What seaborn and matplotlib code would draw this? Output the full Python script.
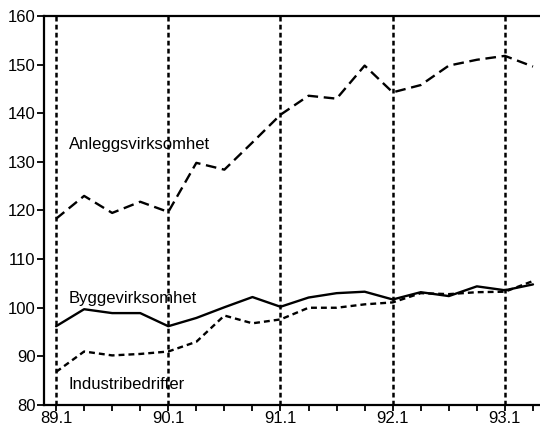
import matplotlib
matplotlib.use("Agg")
import matplotlib.pyplot as plt
import seaborn as sns
import pandas as pd

quarters = ["89.1", "89.2", "89.3", "89.4", "90.1", "90.2", "90.3", "90.4",
            "91.1", "91.2", "91.3", "91.4", "92.1", "92.2", "92.3", "92.4",
            "93.1", "93.2"]
anlegg = [118.3, 123.0, 119.5, 121.8, 119.7, 129.8, 128.4, 134.0,
          139.7, 143.6, 143.0, 149.8, 144.3, 145.8, 149.8, 151.0,
          151.8, 149.6]
bygge = [96.2, 99.7, 98.9, 98.9, 96.2, 97.9, 100.1, 102.2,
         100.2, 102.1, 103.0, 103.3, 101.7, 103.2, 102.4, 104.4,
         103.6, 104.8]
industri = [86.8, 91.0, 90.2, 90.5, 91.0, 93.0, 98.4, 96.8,
            97.6, 100.0, 100.0, 100.7, 101.1, 103.0, 102.8, 103.2,
            103.3, 105.5]
series_names = ["Anleggsvirksomhet", "Byggevirksomhet", "Industribedrifter"]
major_labels = ["89.1", "90.1", "91.1", "92.1", "93.1"]
y_ticks = [80, 90, 100, 110, 120, 130, 140, 150, 160]

rows = []
for name, vals in zip(series_names, [anlegg, bygge, industri]):
    for i, (q, v) in enumerate(zip(quarters, vals)):
        rows.append({"idx": i, "quarter": q, "value": v, "series": name})
df = pd.DataFrame(rows)

sns.set_style("white")
plt.rcParams["font.family"] = ["Liberation Sans", "DejaVu Sans"]
plt.rcParams["text.color"] = "black"
plt.rcParams["xtick.color"] = "black"
plt.rcParams["ytick.color"] = "black"

fig = plt.figure(figsize=(5.4, 4.25), dpi=100)
ax = fig.add_axes([44 / 540, 20 / 425, 1 - 44 / 540, 389 / 425])

dashes = {"Anleggsvirksomhet": (4.5, 2.4),
          "Byggevirksomhet": "",
          "Industribedrifter": (2.5, 1.7)}
sns.lineplot(data=df, x="idx", y="value", style="series", dashes=dashes,
             color="black", linewidth=1.7, legend=False, ax=ax)

major_pos = [quarters.index(m) for m in major_labels]
for p in major_pos:
    ax.axvline(p, color="black", linestyle=(0, (1.9, 1.3)), linewidth=1.8, zorder=1)

ax.set_xlim(-0.43, 17.25)
ax.set_ylim(80, 160)
ax.set_xticks(major_pos)
ax.set_xticklabels(major_labels, fontsize=12)
ax.set_xticks(range(len(quarters)), minor=True)
ax.set_yticks(y_ticks)
ax.set_yticklabels([str(t) for t in y_ticks], fontsize=12)
ax.tick_params(axis="both", which="both", direction="out", color="black",
               labelcolor="black", width=1.3, bottom=True, left=True)
ax.tick_params(axis="x", which="major", length=4, pad=0)
ax.tick_params(axis="x", which="minor", length=4)
ax.tick_params(axis="y", length=5, pad=1)
ax.set_xlabel("")
ax.set_ylabel("")

for s in ["left", "bottom", "top"]:
    ax.spines[s].set_color("black")
    ax.spines[s].set_linewidth(1.6)
ax.spines["right"].set_visible(False)

ax.text(0.45, 133.5, "Anleggsvirksomhet", fontsize=12, ha="left", va="center", color="black")
ax.text(0.45, 102.0, "Byggevirksomhet", fontsize=12, ha="left", va="center", color="black")
ax.text(0.45, 84.3, "Industribedrifter", fontsize=12, ha="left", va="center", color="black")

fig.savefig("out.png", dpi=100)
